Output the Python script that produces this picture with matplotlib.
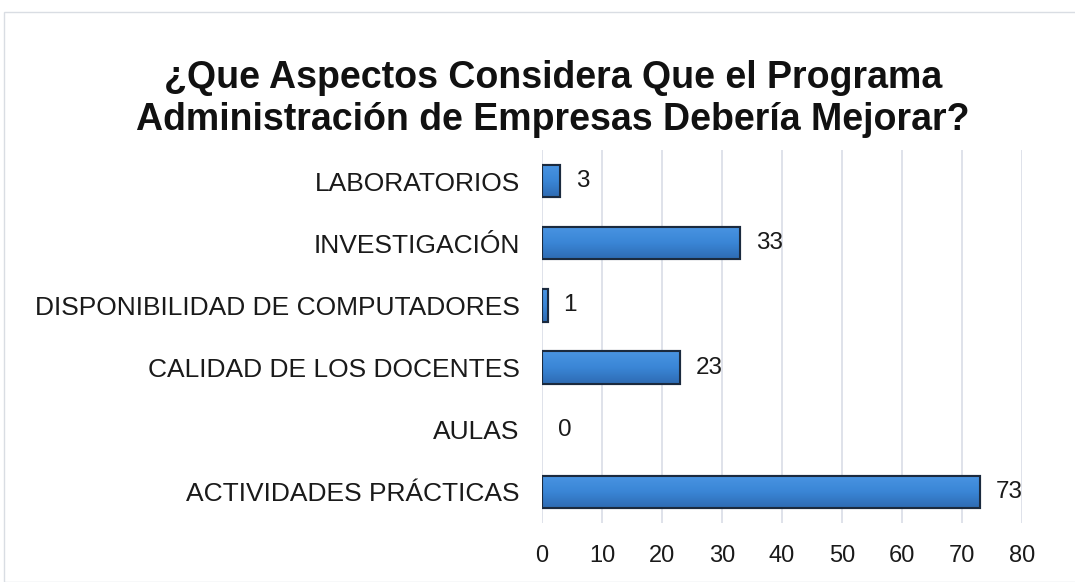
import numpy as np
import matplotlib.pyplot as plt
from matplotlib.patches import Rectangle
from matplotlib.colors import LinearSegmentedColormap

categories = ["ACTIVIDADES PRÁCTICAS", "AULAS", "CALIDAD DE LOS DOCENTES",
              "DISPONIBILIDAD DE COMPUTADORES", "INVESTIGACIÓN", "LABORATORIOS"]
values = [73, 0, 23, 1, 33, 3]
x_ticks = [0, 10, 20, 30, 40, 50, 60, 70, 80]

plt.rcParams["font.family"] = ["Liberation Sans", "DejaVu Sans"]

fig = plt.figure(figsize=(10.75, 5.82), dpi=100)
fig.patches.append(Rectangle((4 / 1075, 0), 1, 1 - 12 / 582, transform=fig.transFigure,
                             fill=False, edgecolor="#d9dde3", linewidth=1))
ax = fig.add_axes([542 / 1075, 1 - 523 / 582, 480 / 1075, 373 / 582])

# vertical gradient for the bars (light top, darker bottom)
grad_cmap = LinearSegmentedColormap.from_list("bar", ["#2e6bb3", "#3a86d6", "#4a94e2"])
grad = np.linspace(0, 1, 64).reshape(-1, 1)

pos = list(range(len(categories)))
bars = ax.barh(pos, values, height=0.52, color="#3a86d6", edgecolor="#1b2a3e",
               linewidth=1.5, zorder=3)
for b, v in zip(bars, values):
    if v == 0:
        b.set_visible(False)
        continue
    x0, y0, w, h = b.get_x(), b.get_y(), b.get_width(), b.get_height()
    im = ax.imshow(grad, cmap=grad_cmap, aspect="auto", origin="lower",
                   extent=(x0, x0 + w, y0, y0 + h), zorder=3.5)
    im.set_clip_path(b)
    ax.add_patch(Rectangle((x0, y0), w, h, fill=False, edgecolor="#1b2a3e",
                           linewidth=1.5, zorder=4))

for y, v in zip(pos, values):
    ax.text(v + 2.6, y, str(v), va="center", ha="left", fontsize=17.5, color="#1a1a1a")

ax.set_xlim(0, 80)
ax.set_ylim(-0.5, len(categories) - 0.5)
ax.set_xticks(x_ticks)
ax.set_yticks(pos)
ax.set_yticklabels(categories)
ax.tick_params(axis="both", length=0, colors="#1a1a1a")
ax.tick_params(axis="x", pad=16, labelsize=17)
ax.tick_params(axis="y", pad=16, labelsize=19)
ax.grid(axis="x", color="#d9dde6", linewidth=1.2, zorder=0)
for s in ax.spines.values():
    s.set_visible(False)

fig.text(553 / 1075, 1 - 99 / 582, "¿Que Aspectos Considera Que el Programa\nAdministración de Empresas Debería Mejorar?",
         ha="center", va="center", fontsize=27, fontweight="bold", linespacing=1.18, color="#111111")

fig.savefig("out.png", dpi=100)
